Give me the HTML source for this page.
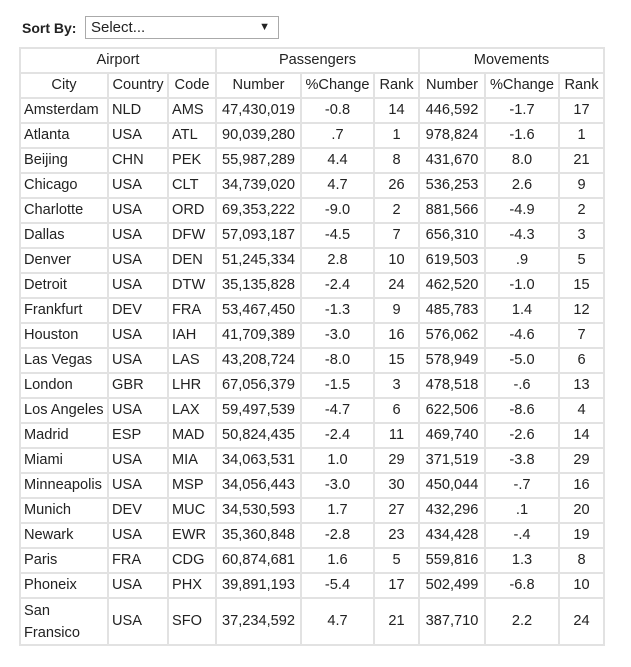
<!DOCTYPE html>
<html><head><meta charset="utf-8"><style>
body{margin:0;background:#fff;font-family:"Liberation Sans",Arial,sans-serif;color:#222;width:631px;height:667px;overflow:hidden;position:relative}
.sort{position:absolute;left:22px;top:17px;font-size:14px;font-weight:bold;line-height:22px}
.sel{position:absolute;left:85px;top:16px;width:192px;height:21px;border:1px solid #aaa;font-size:15px;line-height:21px;box-sizing:content-box}
.sel span{position:absolute;left:5px;top:0}
.sel i{position:absolute;right:8px;top:0;font-style:normal;font-size:11px}
table{position:absolute;left:19px;top:47px;border-collapse:collapse;table-layout:fixed;font-size:14.6px}
td{border:2px solid #e2e2e2;height:23px;padding:0 3px;text-align:center;white-space:nowrap;line-height:19px}
td.l{text-align:left}
</style></head><body>
<div class="sort">Sort By:</div>
<div class="sel"><span>Select...</span><i>▼</i></div>
<table>
<colgroup><col style="width:88px"><col style="width:60px"><col style="width:48px"><col style="width:85px"><col style="width:73px"><col style="width:45px"><col style="width:66px"><col style="width:74px"><col style="width:45px"></colgroup>
<tr><td colspan="3">Airport</td><td colspan="3">Passengers</td><td colspan="3">Movements</td></tr>
<tr><td>City</td><td>Country</td><td>Code</td><td>Number</td><td>%Change</td><td>Rank</td><td>Number</td><td>%Change</td><td>Rank</td></tr>
<tr><td class="l">Amsterdam</td><td class="l">NLD</td><td class="l">AMS</td><td>47,430,019</td><td>-0.8</td><td>14</td><td>446,592</td><td>-1.7</td><td>17</td></tr>
<tr><td class="l">Atlanta</td><td class="l">USA</td><td class="l">ATL</td><td>90,039,280</td><td>.7</td><td>1</td><td>978,824</td><td>-1.6</td><td>1</td></tr>
<tr><td class="l">Beijing</td><td class="l">CHN</td><td class="l">PEK</td><td>55,987,289</td><td>4.4</td><td>8</td><td>431,670</td><td>8.0</td><td>21</td></tr>
<tr><td class="l">Chicago</td><td class="l">USA</td><td class="l">CLT</td><td>34,739,020</td><td>4.7</td><td>26</td><td>536,253</td><td>2.6</td><td>9</td></tr>
<tr><td class="l">Charlotte</td><td class="l">USA</td><td class="l">ORD</td><td>69,353,222</td><td>-9.0</td><td>2</td><td>881,566</td><td>-4.9</td><td>2</td></tr>
<tr><td class="l">Dallas</td><td class="l">USA</td><td class="l">DFW</td><td>57,093,187</td><td>-4.5</td><td>7</td><td>656,310</td><td>-4.3</td><td>3</td></tr>
<tr><td class="l">Denver</td><td class="l">USA</td><td class="l">DEN</td><td>51,245,334</td><td>2.8</td><td>10</td><td>619,503</td><td>.9</td><td>5</td></tr>
<tr><td class="l">Detroit</td><td class="l">USA</td><td class="l">DTW</td><td>35,135,828</td><td>-2.4</td><td>24</td><td>462,520</td><td>-1.0</td><td>15</td></tr>
<tr><td class="l">Frankfurt</td><td class="l">DEV</td><td class="l">FRA</td><td>53,467,450</td><td>-1.3</td><td>9</td><td>485,783</td><td>1.4</td><td>12</td></tr>
<tr><td class="l">Houston</td><td class="l">USA</td><td class="l">IAH</td><td>41,709,389</td><td>-3.0</td><td>16</td><td>576,062</td><td>-4.6</td><td>7</td></tr>
<tr><td class="l">Las Vegas</td><td class="l">USA</td><td class="l">LAS</td><td>43,208,724</td><td>-8.0</td><td>15</td><td>578,949</td><td>-5.0</td><td>6</td></tr>
<tr><td class="l">London</td><td class="l">GBR</td><td class="l">LHR</td><td>67,056,379</td><td>-1.5</td><td>3</td><td>478,518</td><td>-.6</td><td>13</td></tr>
<tr><td class="l">Los Angeles</td><td class="l">USA</td><td class="l">LAX</td><td>59,497,539</td><td>-4.7</td><td>6</td><td>622,506</td><td>-8.6</td><td>4</td></tr>
<tr><td class="l">Madrid</td><td class="l">ESP</td><td class="l">MAD</td><td>50,824,435</td><td>-2.4</td><td>11</td><td>469,740</td><td>-2.6</td><td>14</td></tr>
<tr><td class="l">Miami</td><td class="l">USA</td><td class="l">MIA</td><td>34,063,531</td><td>1.0</td><td>29</td><td>371,519</td><td>-3.8</td><td>29</td></tr>
<tr><td class="l">Minneapolis</td><td class="l">USA</td><td class="l">MSP</td><td>34,056,443</td><td>-3.0</td><td>30</td><td>450,044</td><td>-.7</td><td>16</td></tr>
<tr><td class="l">Munich</td><td class="l">DEV</td><td class="l">MUC</td><td>34,530,593</td><td>1.7</td><td>27</td><td>432,296</td><td>.1</td><td>20</td></tr>
<tr><td class="l">Newark</td><td class="l">USA</td><td class="l">EWR</td><td>35,360,848</td><td>-2.8</td><td>23</td><td>434,428</td><td>-.4</td><td>19</td></tr>
<tr><td class="l">Paris</td><td class="l">FRA</td><td class="l">CDG</td><td>60,874,681</td><td>1.6</td><td>5</td><td>559,816</td><td>1.3</td><td>8</td></tr>
<tr><td class="l">Phoneix</td><td class="l">USA</td><td class="l">PHX</td><td>39,891,193</td><td>-5.4</td><td>17</td><td>502,499</td><td>-6.8</td><td>10</td></tr>
<tr><td class="l" style="height:45px;line-height:22px;white-space:normal">San<br>Fransico</td><td class="l">USA</td><td class="l">SFO</td><td>37,234,592</td><td>4.7</td><td>21</td><td>387,710</td><td>2.2</td><td>24</td></tr>
</table>
</body></html>
